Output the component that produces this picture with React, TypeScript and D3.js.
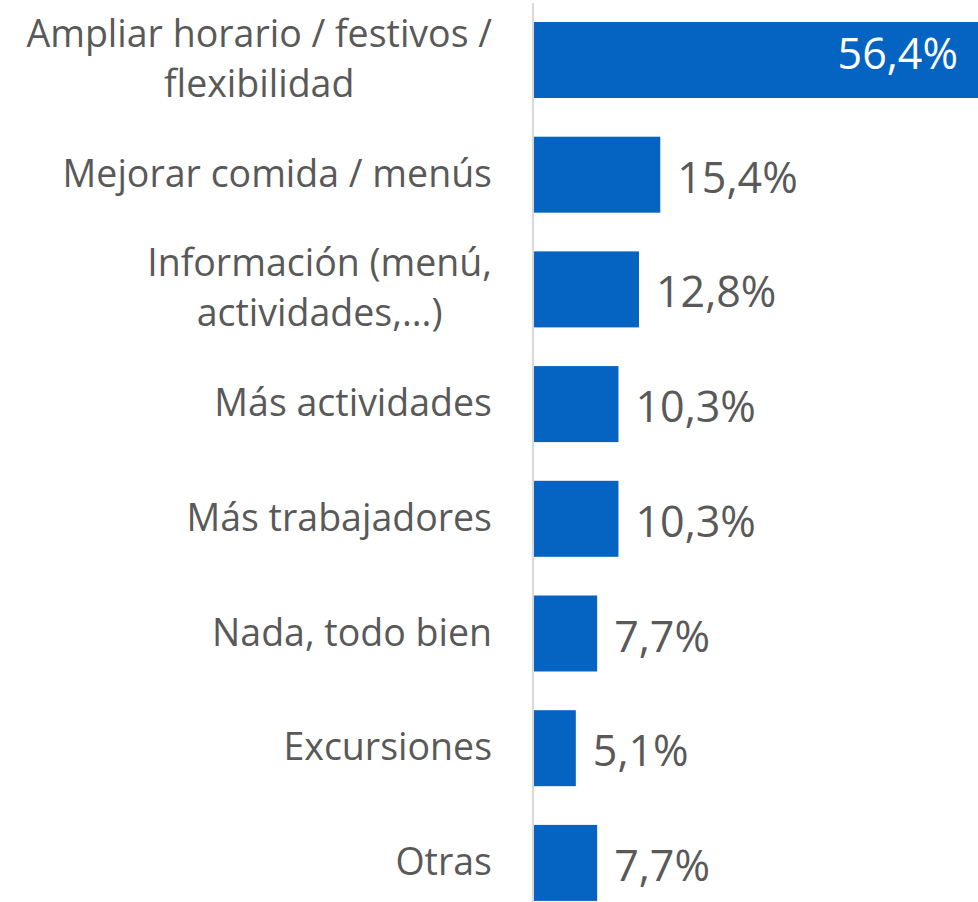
import React, { useEffect, useRef } from "react";
import * as d3 from "d3";

const categories: string[][] = [
  ["Ampliar horario / festivos /", "flexibilidad"],
  ["Mejorar comida / menús"],
  ["Información (menú,", "actividades,...)"],
  ["Más actividades"],
  ["Más trabajadores"],
  ["Nada, todo bien"],
  ["Excursiones"],
  ["Otras"],
];
const values: number[] = [56.4, 15.4, 12.8, 10.3, 10.3, 7.7, 5.1, 7.7];
const valueLabels: string[] = ["56,4%", "15,4%", "12,8%", "10,3%", "10,3%", "7,7%", "5,1%", "7,7%"];

const W = 978;
const H = 902;
const X0 = 534;
const BAR = "#0563C1";
const TEXT = "#595959";
const FONT = "'Open Sans', 'Noto Sans', sans-serif";

export default function App() {
  const ref = useRef<SVGSVGElement>(null);
  useEffect(() => {
    const svg = d3.select(ref.current);
    svg.selectAll("*").remove();
    const x = d3.scaleLinear().domain([0, 10]).range([X0, X0 + 82]);
    const ids = values.map((_, i) => String(i));
    const y = d3
      .scaleBand<string>()
      .domain(ids)
      .range([2.65, 920.25])
      .paddingInner(0.3374)
      .paddingOuter(0.1687);

    svg
      .append("line")
      .attr("x1", X0 - 1)
      .attr("x2", X0 - 1)
      .attr("y1", 3)
      .attr("y2", H)
      .attr("stroke", "#d9d9d9")
      .attr("stroke-width", 2);

    svg
      .selectAll("rect.bar")
      .data(values)
      .join("rect")
      .attr("class", "bar")
      .attr("x", X0)
      .attr("y", (_, i) => y(ids[i])!)
      .attr("width", (d) => x(d) - X0)
      .attr("height", y.bandwidth())
      .attr("fill", BAR);

    // value labels
    values.forEach((v, i) => {
      const cy = y(ids[i])! + y.bandwidth() / 2;
      const inside = x(v) > W - 40;
      svg
        .append("text")
        .attr("x", inside ? 958 : x(v) + 17)
        .attr("y", inside ? cy + 9 : cy + 18)
        .attr("text-anchor", inside ? "end" : "start")
        .attr("font-family", FONT)
        .attr("font-size", 43)
        .attr("fill", inside ? "#ffffff" : TEXT)
        .text(valueLabels[i]);
    });

    // category labels
    const lineH = 50;
    categories.forEach((lines, i) => {
      const cy = y(ids[i])! + y.bandwidth() / 2;
      const g = svg.append("g");
      const texts = lines.map((ln, j) =>
        g
          .append("text")
          .attr("font-family", FONT)
          .attr("font-size", 37.5)
          .attr("fill", TEXT)
          .attr("text-anchor", "middle")
          .attr("y", cy + 12 + (j - (lines.length - 1) / 2) * lineH)
          .text(ln)
      );
      const widths = texts.map((t) => (t.node() as SVGTextElement).getComputedTextLength());
      const bw = Math.max(...widths);
      const cx = 492 - bw / 2;
      texts.forEach((t) => t.attr("x", cx));
    });
  }, []);

  return (
    <svg
      ref={ref}
      width={W}
      height={H}
      style={{ position: "absolute", left: 0, top: 0, background: "#fff", overflow: "hidden" }}
    />
  );
}
